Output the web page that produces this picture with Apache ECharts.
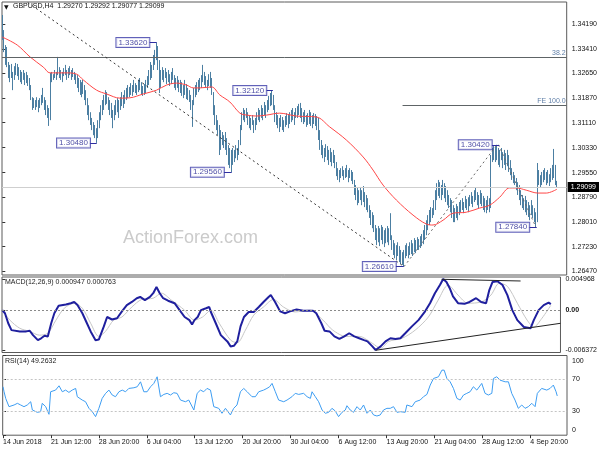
<!DOCTYPE html>
<html><head><meta charset="utf-8">
<script src="https://cdn.jsdelivr.net/npm/echarts@6/dist/echarts.min.js"></script>
<style>html,body{margin:0;padding:0;background:#fff}#c{width:600px;height:450px}</style>
</head><body><div id="c"></div><script>
// ---- tick labels ----
const xTickBars = [0,32,64,96,128,160,192,224,256,288,320,352];
const xTickLabels = ['14 Jun 2018','21 Jun 12:00','28 Jun 20:00','6 Jul 04:00','13 Jul 12:00','20 Jul 20:00','30 Jul 04:00','6 Aug 12:00','13 Aug 20:00','21 Aug 04:00','28 Aug 12:00','4 Sep 20:00'];
const priceTicks = [1.34190,1.33410,1.32650,1.31870,1.31110,1.30330,1.29550,1.28790,1.28010,1.27230,1.26470];
const macdTicks = [0.004968,0,-0.006372];
const rsiTicks = [100,70,30,0];

// ---- H4 candles ----
const opens = [1.3440,1.3375,1.3338,1.3310,1.3290,1.3268,1.3275,1.3255,1.3262,1.3278,
1.3274,1.3266,1.3255,1.3250,1.3258,1.3249,1.3254,1.3242,1.3230,1.3218,
1.3188,1.3170,1.3165,1.3176,1.3164,1.3170,1.3180,1.3192,1.3180,1.3160,
1.3145,1.3130,1.3150,1.3255,1.3252,1.3260,1.3258,1.3265,1.3270,1.3262,
1.3255,1.3266,1.3275,1.3265,1.3268,1.3272,1.3262,1.3266,1.3258,1.3248,
1.3240,1.3230,1.3222,1.3212,1.3220,1.3206,1.3190,1.3170,1.3142,1.3124,
1.3108,1.3092,1.3080,1.3070,1.3088,1.3112,1.3138,1.3156,1.3172,1.3188,
1.3190,1.3175,1.3160,1.3148,1.3130,1.3140,1.3155,1.3165,1.3155,1.3168,
1.3182,1.3178,1.3190,1.3200,1.3206,1.3208,1.3215,1.3212,1.3225,1.3220,
1.3214,1.3225,1.3232,1.3220,1.3210,1.3215,1.3225,1.3238,1.3252,1.3270,
1.3272,1.3288,1.3315,1.3335,1.3315,1.3282,1.3245,1.3262,1.3258,1.3266,
1.3255,1.3256,1.3245,1.3250,1.3262,1.3248,1.3232,1.3238,1.3226,1.3224,
1.3216,1.3208,1.3220,1.3208,1.3200,1.3194,1.3180,1.3155,1.3175,1.3208,
1.3218,1.3226,1.3232,1.3240,1.3255,1.3250,1.3240,1.3230,1.3242,1.3245,
1.3226,1.3205,1.3140,1.3110,1.3095,1.3078,1.3055,1.3060,1.3050,1.3055,
1.3035,1.3015,1.3000,1.2990,1.3004,1.3008,1.3020,1.3012,1.3028,1.3052,
1.3100,1.3138,1.3132,1.3142,1.3128,1.3115,1.3106,1.3118,1.3106,1.3105,
1.3122,1.3138,1.3132,1.3145,1.3138,1.3154,1.3146,1.3162,1.3172,1.3184,
1.3190,1.3176,1.3155,1.3122,1.3114,1.3104,1.3115,1.3108,1.3100,1.3114,
1.3122,1.3116,1.3124,1.3132,1.3138,1.3125,1.3140,1.3145,1.3152,1.3150,
1.3136,1.3126,1.3130,1.3118,1.3122,1.3128,1.3122,1.3115,1.3122,1.3118,
1.3108,1.3095,1.3062,1.3035,1.3020,1.3010,1.3022,1.3016,1.3004,1.3008,
1.2998,1.3005,1.2990,1.2975,1.2950,1.2945,1.2952,1.2958,1.2948,1.2954,
1.2960,1.2946,1.2952,1.2946,1.2938,1.2922,1.2892,1.2880,1.2878,1.2888,
1.2876,1.2886,1.2870,1.2860,1.2852,1.2836,1.2816,1.2804,1.2795,1.2772,
1.2755,1.2762,1.2752,1.2766,1.2758,1.2748,1.2756,1.2762,1.2756,1.2770,
1.2750,1.2722,1.2710,1.2704,1.2714,1.2700,1.2690,1.2685,1.2688,1.2705,
1.2712,1.2706,1.2716,1.2722,1.2715,1.2728,1.2724,1.2732,1.2730,1.2738,
1.2744,1.2752,1.2766,1.2782,1.2798,1.2814,1.2825,1.2830,1.2840,1.2862,
1.2892,1.2908,1.2902,1.2894,1.2906,1.2900,1.2888,1.2876,1.2865,1.2852,
1.2840,1.2826,1.2820,1.2832,1.2828,1.2840,1.2850,1.2856,1.2846,1.2860,
1.2856,1.2854,1.2866,1.2874,1.2866,1.2878,1.2888,1.2875,1.2864,1.2876,
1.2870,1.2860,1.2852,1.2848,1.2858,1.2854,1.2860,1.3000,1.3015,1.3014,
1.3020,1.3005,1.3000,1.3012,1.2998,1.3002,1.2990,1.3000,1.2984,1.2970,
1.2952,1.2940,1.2930,1.2920,1.2905,1.2892,1.2876,1.2864,1.2856,1.2856,
1.2845,1.2840,1.2830,1.2844,1.2834,1.2822,1.2808,1.2825,1.2945,1.2928,
1.2935,1.2944,1.2950,1.2938,1.2942,1.2932,1.2945,1.2955,1.2975,1.2950,
1.29270];
const highs = [1.3448,1.3401,1.3354,1.3348,1.3301,1.3292,1.3295,1.3270,1.3288,1.3298,
1.3295,1.3285,1.3276,1.3270,1.3276,1.3267,1.3270,1.3260,1.3251,1.3229,
1.3191,1.3188,1.3182,1.3191,1.3182,1.3188,1.3198,1.3220,1.3191,1.3182,
1.3166,1.3157,1.3267,1.3270,1.3263,1.3276,1.3270,1.3317,1.3285,1.3276,
1.3270,1.3282,1.3292,1.3276,1.3282,1.3288,1.3276,1.3282,1.3270,1.3263,
1.3260,1.3251,1.3245,1.3238,1.3245,1.3229,1.3213,1.3188,1.3166,1.3144,
1.3126,1.3113,1.3104,1.3094,1.3119,1.3144,1.3166,1.3182,1.3198,1.3213,
1.3207,1.3191,1.3182,1.3173,1.3151,1.3166,1.3182,1.3188,1.3182,1.3191,
1.3207,1.3198,1.3213,1.3220,1.3229,1.3223,1.3235,1.3229,1.3245,1.3235,
1.3229,1.3245,1.3251,1.3238,1.3226,1.3232,1.3245,1.3257,1.3276,1.3301,
1.3292,1.3323,1.3339,1.3362,1.3351,1.3307,1.3276,1.3285,1.3276,1.3282,
1.3270,1.3276,1.3263,1.3270,1.3282,1.3260,1.3251,1.3257,1.3245,1.3245,
1.3238,1.3229,1.3245,1.3232,1.3220,1.3213,1.3198,1.3182,1.3220,1.3229,
1.3238,1.3245,1.3251,1.3260,1.3292,1.3270,1.3257,1.3245,1.3263,1.3270,
1.3251,1.3207,1.3166,1.3135,1.3119,1.3104,1.3088,1.3082,1.3072,1.3082,
1.3063,1.3041,1.3032,1.3026,1.3032,1.3026,1.3041,1.3032,1.3057,1.3104,
1.3144,1.3157,1.3151,1.3157,1.3144,1.3135,1.3126,1.3135,1.3119,1.3126,
1.3144,1.3157,1.3151,1.3166,1.3157,1.3176,1.3166,1.3182,1.3195,1.3204,
1.3212,1.3198,1.3166,1.3144,1.3135,1.3126,1.3135,1.3129,1.3119,1.3132,
1.3141,1.3135,1.3144,1.3151,1.3157,1.3144,1.3157,1.3163,1.3170,1.3173,
1.3157,1.3144,1.3151,1.3135,1.3141,1.3151,1.3144,1.3135,1.3141,1.3138,
1.3132,1.3126,1.3088,1.3057,1.3041,1.3032,1.3044,1.3038,1.3026,1.3032,
1.3019,1.3026,1.3010,1.2988,1.2969,1.2963,1.2969,1.2975,1.2963,1.2969,
1.2979,1.2963,1.2969,1.2963,1.2957,1.2932,1.2916,1.2907,1.2900,1.2910,
1.2900,1.2913,1.2894,1.2885,1.2875,1.2853,1.2838,1.2831,1.2822,1.2791,
1.2781,1.2788,1.2781,1.2791,1.2785,1.2775,1.2781,1.2788,1.2781,1.2828,
1.2759,1.2744,1.2734,1.2728,1.2737,1.2725,1.2713,1.2706,1.2713,1.2728,
1.2734,1.2725,1.2737,1.2744,1.2734,1.2750,1.2744,1.2753,1.2747,1.2756,
1.2763,1.2775,1.2791,1.2806,1.2822,1.2838,1.2847,1.2844,1.2869,1.2900,
1.2922,1.2932,1.2925,1.2916,1.2932,1.2922,1.2913,1.2900,1.2885,1.2875,
1.2869,1.2853,1.2844,1.2857,1.2850,1.2863,1.2869,1.2875,1.2863,1.2882,
1.2872,1.2878,1.2885,1.2894,1.2882,1.2900,1.2907,1.2894,1.2885,1.2900,
1.2891,1.2882,1.2875,1.2869,1.2882,1.2875,1.3010,1.3032,1.3038,1.3035,
1.3042,1.3032,1.3026,1.3032,1.3019,1.3026,1.3016,1.3026,1.3010,1.2994,
1.2969,1.2957,1.2947,1.2938,1.2925,1.2916,1.2900,1.2885,1.2875,1.2882,
1.2869,1.2863,1.2853,1.2869,1.2853,1.2844,1.2831,1.2985,1.2963,1.2947,
1.2957,1.2963,1.2969,1.2957,1.2963,1.2950,1.2969,1.2979,1.3029,1.2979,
1.29292];
const lows = [1.3370,1.3332,1.3292,1.3285,1.3251,1.3238,1.3251,1.3213,1.3245,1.3260,
1.3257,1.3245,1.3238,1.3232,1.3245,1.3229,1.3235,1.3226,1.3213,1.3182,
1.3151,1.3157,1.3151,1.3160,1.3144,1.3157,1.3166,1.3173,1.3151,1.3135,
1.3126,1.3101,1.3119,1.3238,1.3245,1.3251,1.3245,1.3260,1.3251,1.3245,
1.3238,1.3257,1.3260,1.3245,1.3251,1.3260,1.3245,1.3254,1.3245,1.3232,
1.3220,1.3207,1.3198,1.3191,1.3201,1.3182,1.3166,1.3135,1.3119,1.3104,
1.3088,1.3072,1.3063,1.3048,1.3063,1.3094,1.3119,1.3135,1.3151,1.3166,
1.3170,1.3151,1.3135,1.3126,1.3094,1.3119,1.3135,1.3144,1.3126,1.3151,
1.3163,1.3157,1.3170,1.3182,1.3188,1.3191,1.3198,1.3195,1.3207,1.3204,
1.3198,1.3207,1.3213,1.3201,1.3195,1.3198,1.3204,1.3220,1.3229,1.3245,
1.3251,1.3276,1.3292,1.3307,1.3276,1.3204,1.3220,1.3245,1.3238,1.3251,
1.3232,1.3238,1.3226,1.3232,1.3245,1.3220,1.3213,1.3220,1.3207,1.3204,
1.3195,1.3188,1.3198,1.3185,1.3182,1.3176,1.3151,1.3098,1.3166,1.3191,
1.3198,1.3207,1.3213,1.3220,1.3238,1.3229,1.3220,1.3213,1.3226,1.3220,
1.3198,1.3135,1.3104,1.3088,1.3072,1.3010,1.3026,1.3041,1.3032,1.3026,
1.3010,1.2979,1.2969,1.2956,1.2979,1.2988,1.3000,1.2994,1.3010,1.3041,
1.3088,1.3119,1.3113,1.3126,1.3104,1.3094,1.3088,1.3104,1.3079,1.3088,
1.3104,1.3119,1.3113,1.3126,1.3119,1.3135,1.3126,1.3144,1.3151,1.3163,
1.3166,1.3151,1.3113,1.3104,1.3094,1.3082,1.3098,1.3088,1.3082,1.3098,
1.3104,1.3094,1.3107,1.3113,1.3119,1.3104,1.3126,1.3126,1.3135,1.3126,
1.3113,1.3107,1.3113,1.3098,1.3104,1.3107,1.3101,1.3094,1.3107,1.3101,
1.3088,1.3057,1.3026,1.3010,1.3000,1.2988,1.3004,1.2994,1.2979,1.2988,
1.2975,1.2985,1.2969,1.2944,1.2932,1.2925,1.2938,1.2944,1.2932,1.2938,
1.2941,1.2925,1.2938,1.2929,1.2919,1.2885,1.2869,1.2853,1.2860,1.2869,
1.2853,1.2863,1.2847,1.2838,1.2831,1.2813,1.2791,1.2781,1.2769,1.2744,
1.2728,1.2737,1.2725,1.2744,1.2731,1.2722,1.2734,1.2737,1.2728,1.2744,
1.2713,1.2697,1.2687,1.2681,1.2694,1.2675,1.2669,1.2666,1.2661,1.2687,
1.2694,1.2687,1.2697,1.2700,1.2694,1.2706,1.2703,1.2713,1.2713,1.2719,
1.2725,1.2731,1.2744,1.2759,1.2775,1.2791,1.2800,1.2813,1.2822,1.2838,
1.2869,1.2882,1.2875,1.2869,1.2885,1.2875,1.2863,1.2853,1.2844,1.2831,
1.2813,1.2800,1.2800,1.2813,1.2806,1.2822,1.2831,1.2838,1.2828,1.2844,
1.2838,1.2831,1.2850,1.2857,1.2847,1.2863,1.2869,1.2853,1.2844,1.2857,
1.2850,1.2838,1.2831,1.2828,1.2838,1.2831,1.2844,1.2988,1.2994,1.2988,
1.2994,1.2979,1.2972,1.2994,1.2969,1.2979,1.2963,1.2975,1.2957,1.2947,
1.2932,1.2922,1.2916,1.2900,1.2885,1.2869,1.2853,1.2844,1.2838,1.2831,
1.2822,1.2816,1.2806,1.2822,1.2813,1.2800,1.2784,1.2800,1.2916,1.2907,
1.2916,1.2925,1.2932,1.2916,1.2922,1.2913,1.2925,1.2932,1.2938,1.2916,
1.29077];
const closes = [1.3375,1.3338,1.3310,1.3290,1.3268,1.3275,1.3255,1.3262,1.3278,1.3274,
1.3266,1.3255,1.3250,1.3258,1.3249,1.3254,1.3242,1.3230,1.3218,1.3188,
1.3170,1.3165,1.3176,1.3164,1.3170,1.3180,1.3192,1.3180,1.3160,1.3145,
1.3130,1.3150,1.3255,1.3252,1.3260,1.3258,1.3265,1.3270,1.3262,1.3255,
1.3266,1.3275,1.3265,1.3268,1.3272,1.3262,1.3266,1.3258,1.3248,1.3240,
1.3230,1.3222,1.3212,1.3220,1.3206,1.3190,1.3170,1.3142,1.3124,1.3108,
1.3092,1.3080,1.3070,1.3088,1.3112,1.3138,1.3156,1.3172,1.3188,1.3190,
1.3175,1.3160,1.3148,1.3130,1.3140,1.3155,1.3165,1.3155,1.3168,1.3182,
1.3178,1.3190,1.3200,1.3206,1.3208,1.3215,1.3212,1.3225,1.3220,1.3214,
1.3225,1.3232,1.3220,1.3210,1.3215,1.3225,1.3238,1.3252,1.3270,1.3272,
1.3288,1.3315,1.3335,1.3315,1.3282,1.3245,1.3262,1.3258,1.3266,1.3255,
1.3256,1.3245,1.3250,1.3262,1.3248,1.3232,1.3238,1.3226,1.3224,1.3216,
1.3208,1.3220,1.3208,1.3200,1.3194,1.3180,1.3155,1.3175,1.3208,1.3218,
1.3226,1.3232,1.3240,1.3255,1.3250,1.3240,1.3230,1.3242,1.3245,1.3226,
1.3205,1.3140,1.3110,1.3095,1.3078,1.3055,1.3060,1.3050,1.3055,1.3035,
1.3015,1.3000,1.2990,1.3004,1.3008,1.3020,1.3012,1.3028,1.3052,1.3100,
1.3138,1.3132,1.3142,1.3128,1.3115,1.3106,1.3118,1.3106,1.3105,1.3122,
1.3138,1.3132,1.3145,1.3138,1.3154,1.3146,1.3162,1.3172,1.3184,1.3190,
1.3176,1.3155,1.3122,1.3114,1.3104,1.3115,1.3108,1.3100,1.3114,1.3122,
1.3116,1.3124,1.3132,1.3138,1.3125,1.3140,1.3145,1.3152,1.3150,1.3136,
1.3126,1.3130,1.3118,1.3122,1.3128,1.3122,1.3115,1.3122,1.3118,1.3108,
1.3095,1.3062,1.3035,1.3020,1.3010,1.3022,1.3016,1.3004,1.3008,1.2998,
1.3005,1.2990,1.2975,1.2950,1.2945,1.2952,1.2958,1.2948,1.2954,1.2960,
1.2946,1.2952,1.2946,1.2938,1.2922,1.2892,1.2880,1.2878,1.2888,1.2876,
1.2886,1.2870,1.2860,1.2852,1.2836,1.2816,1.2804,1.2795,1.2772,1.2755,
1.2762,1.2752,1.2766,1.2758,1.2748,1.2756,1.2762,1.2756,1.2770,1.2750,
1.2722,1.2710,1.2704,1.2714,1.2700,1.2690,1.2685,1.2688,1.2705,1.2712,
1.2706,1.2716,1.2722,1.2715,1.2728,1.2724,1.2732,1.2730,1.2738,1.2744,
1.2752,1.2766,1.2782,1.2798,1.2814,1.2825,1.2830,1.2840,1.2862,1.2892,
1.2908,1.2902,1.2894,1.2906,1.2900,1.2888,1.2876,1.2865,1.2852,1.2840,
1.2826,1.2820,1.2832,1.2828,1.2840,1.2850,1.2856,1.2846,1.2860,1.2856,
1.2854,1.2866,1.2874,1.2866,1.2878,1.2888,1.2875,1.2864,1.2876,1.2870,
1.2860,1.2852,1.2848,1.2858,1.2854,1.2860,1.3000,1.3015,1.3014,1.3020,
1.3005,1.3000,1.3012,1.2998,1.3002,1.2990,1.3000,1.2984,1.2970,1.2952,
1.2940,1.2930,1.2920,1.2905,1.2892,1.2876,1.2864,1.2856,1.2856,1.2845,
1.2840,1.2830,1.2844,1.2834,1.2822,1.2808,1.2825,1.2945,1.2928,1.2935,
1.2944,1.2950,1.2938,1.2942,1.2932,1.2945,1.2955,1.2975,1.2950,1.2927,
1.29099];

// ---- moving average [bar, price] ----
const maLine = [[0,1.3379],[10,1.3354],[18.5,1.3317],[27.4,1.3285],[31.8,1.3267],[42.9,1.3267],[49.6,1.3263],[54,1.3245],[62.9,1.3213],[69.6,1.3201],[78.5,1.3188],[85.1,1.3189],[94,1.3201],[102.9,1.3213],[109.6,1.3229],[116.2,1.3235],[122.9,1.3229],[127.4,1.3220],[131.8,1.3220],[139.6,1.3223],[145.1,1.3198],[151.8,1.3176],[158.5,1.3141],[163,1.3135],[169.6,1.3132],[176.3,1.3135],[185,1.3141],[196,1.3132],[209.5,1.3129],[218.4,1.3098],[229.5,1.3057],[240.7,1.3004],[247.3,1.2963],[254,1.2916],[262.9,1.2869],[274,1.2822],[282.9,1.2794],[287.3,1.2791],[294,1.2806],[300.7,1.2828],[309.5,1.2831],[318.4,1.2844],[325.1,1.2853],[331.8,1.2878],[338.4,1.2907],[342.9,1.2907],[349.5,1.2900],[357.3,1.2891],[362.9,1.2891],[370,1.2903]];

// ---- MACD(12,26,9) [bar, value] ----
const macdMain = [[0,0.0000],[1.8,-0.0005],[4,-0.0021],[6.2,-0.0032],[11.8,-0.0034],[16.2,-0.0034],[18.5,-0.0033],[20.7,-0.0040],[24,-0.0048],[26.2,-0.0045],[28.5,-0.0041],[30.7,-0.0042],[33,-0.0021],[35.1,-0.0005],[38,0.0007],[42.9,0.0009],[46.2,0.0011],[48.5,0.0013],[50.7,0.0008],[54,-0.0005],[56.7,-0.0019],[59.6,-0.0034],[62.9,-0.0048],[65.1,-0.0047],[68.5,-0.0026],[70.7,-0.0011],[74,-0.0015],[77.4,-0.0013],[80.7,-0.0002],[84,0.0008],[87.4,0.0013],[90.7,0.0019],[93,0.0021],[96.2,0.0016],[99.6,0.0021],[101.8,0.0027],[104,0.0037],[106.2,0.0027],[108.5,0.0019],[111.8,0.0015],[116.2,0.0011],[119.6,0.0000],[123,-0.0011],[126.2,-0.0016],[128,-0.0023],[129.6,-0.0016],[131.8,-0.0011],[134,0.0000],[137.4,0.0003],[139.6,0.0005],[140.7,-0.0003],[144,-0.0021],[147.4,-0.0040],[151.8,-0.0050],[154,-0.0058],[156.2,-0.0057],[158.5,-0.0050],[160.7,-0.0026],[163,-0.0011],[166.2,-0.0003],[169.6,-0.0003],[173,0.0005],[176.2,0.0013],[179.6,0.0021],[181.1,0.0024],[184,0.0013],[187.4,-0.0002],[190.7,-0.0005],[194,-0.0002],[198.5,0.0001],[203,-0.0001],[209.6,-0.0001],[211.8,-0.0005],[215.2,-0.0021],[217.4,-0.0033],[220.7,-0.0034],[224,-0.0042],[227.4,-0.0046],[230.7,-0.0042],[234,-0.0037],[237.4,-0.0042],[240.7,-0.0045],[244,-0.0048],[246.3,-0.0050],[249.6,-0.0058],[251.8,-0.006372],[255.2,-0.0058],[258.5,-0.0050],[261.8,-0.0045],[265.2,-0.0046],[268.5,-0.0045],[271.8,-0.0037],[276.3,-0.0026],[280.7,-0.0016],[285.2,-0.0002],[288.5,0.0011],[291.8,0.0027],[295.2,0.0040],[297.4,0.004968],[299.6,0.0045],[301.8,0.0035],[304,0.0022],[307.4,0.0011],[311.8,0.0010],[315.2,0.0013],[319.6,0.0019],[323,0.0013],[326.3,0.0011],[328.5,0.0032],[330.7,0.0045],[334,0.0046],[337.4,0.0040],[340.7,0.0024],[344,0.0000],[347.4,-0.0016],[351.8,-0.0027],[356.3,-0.0029],[358.5,-0.0016],[361.8,0.0000],[365.2,0.0008],[368.5,0.0012],[370,0.000947]];
const macdSignal = [[0,0.0000],[5.1,-0.0016],[11.8,-0.0029],[18.5,-0.0034],[25.1,-0.0040],[30.7,-0.0037],[36.2,-0.0016],[41.8,0.0003],[48.5,0.0011],[54,0.0003],[59.6,-0.0021],[65.1,-0.0042],[69.6,-0.0034],[75.1,-0.0016],[80.7,-0.0011],[87.4,0.0005],[94,0.0017],[101.8,0.0019],[107.4,0.0027],[114,0.0016],[122.9,0.0000],[129.6,-0.0016],[135.1,-0.0011],[140.7,0.0000],[146.3,-0.0021],[154,-0.0048],[158.5,-0.0052],[164,-0.0032],[169.6,-0.0008],[176.2,0.0005],[182.9,0.0017],[189.6,0.0005],[197.4,-0.0003],[207.4,0.0000],[216.3,-0.0016],[222.9,-0.0032],[231.8,-0.0042],[240.7,-0.0042],[249.6,-0.0053],[255.2,-0.0061],[260.7,-0.0050],[269.6,-0.0045],[278.5,-0.0032],[287.4,-0.0011],[294,0.0016],[300.7,0.0040],[307.4,0.0024],[314,0.0011],[323,0.0013],[329.6,0.0024],[335.2,0.0043],[340.7,0.0038],[347.4,0.0011],[354,-0.0016],[358.5,-0.0027],[364,-0.0013],[370,0.000763]];

// ---- RSI(14) [bar, value] ----
const rsiLine = [[0,60.8],[0.7,54.5],[1.8,46.2],[4,35.8],[7.4,37.9],[9.6,40.0],[11.8,37.9],[14,35.8],[16.2,37.9],[18.5,42.0],[19.6,31.6],[22.9,28.7],[25.1,29.5],[26.2,40.0],[28.5,35.8],[30.7,26.2],[31.8,54.5],[35.1,56.6],[37.4,62.0],[39.6,54.5],[41.8,56.6],[44,53.7],[46.2,56.6],[48.5,58.7],[49.6,48.3],[52.9,44.1],[55.1,42.0],[57.4,33.7],[59.6,29.5],[61.8,23.3],[64,33.7],[66.2,46.2],[68.5,52.5],[70.7,56.6],[72.9,50.4],[75.1,48.3],[77.4,54.5],[79.6,56.6],[81.8,54.5],[84,58.7],[87.4,59.5],[89.6,60.8],[91.8,67.0],[94,54.5],[96.2,54.5],[98.5,60.8],[100.7,65.0],[102.9,73.3],[104,75.4],[105.1,48.3],[107.4,51.2],[109.6,52.5],[111.8,50.4],[114,53.3],[116.2,52.5],[118.5,44.1],[121.8,42.0],[124,44.1],[127.4,31.6],[129.6,52.5],[131.8,56.6],[134,54.5],[136.2,58.7],[138.5,56.6],[140.7,35.8],[144,33.7],[146.2,27.5],[148.5,33.7],[151.8,25.4],[154,33.7],[156.2,37.9],[158.5,54.5],[160.7,58.7],[163,54.5],[166.2,48.3],[168.5,48.3],[170.7,54.5],[174,56.6],[176.2,58.7],[178,60.8],[179.6,65.0],[181.8,54.5],[184,44.1],[187.4,42.0],[189.6,44.1],[192.9,48.3],[195.1,52.5],[197.4,51.2],[200.7,52.5],[203,48.3],[205.2,46.2],[206.3,54.5],[208.5,48.3],[210.7,42.0],[213,31.6],[215.2,27.5],[217.4,28.7],[219.6,33.7],[221.8,30.4],[224,23.3],[226.3,28.7],[228.5,31.6],[229.6,37.0],[231.8,31.6],[234,28.7],[236.3,35.8],[238.5,31.6],[240.7,37.9],[243,27.5],[245.2,31.6],[247.4,25.4],[249.6,24.1],[251.8,25.4],[254,31.6],[256.3,33.7],[258.5,33.7],[260.7,35.8],[263,28.7],[265.2,29.5],[268.5,28.7],[269.6,37.9],[273,35.8],[275.2,42.0],[278.5,44.1],[280.7,48.3],[283,51.2],[285.2,62.9],[287.4,71.2],[290.7,73.3],[293,81.6],[294.5,81.6],[296.3,71.2],[298.5,67.0],[300.7,58.7],[303,46.2],[305.2,44.1],[307.4,50.4],[309.6,52.5],[311.8,54.5],[314,60.8],[316.3,56.6],[319.6,65.0],[321.8,52.5],[324,50.4],[326.3,52.5],[327.4,71.2],[329.6,73.3],[331.8,69.1],[335.2,67.0],[337.4,67.0],[339.6,52.5],[341.8,44.1],[344,33.7],[346.3,37.9],[348.5,33.7],[350.7,35.8],[353,40.0],[355.2,35.8],[356.7,52.5],[359.6,58.7],[363,56.6],[365.2,58.7],[367.4,62.9],[369.2,54.5],[370,49.2632]];

// ---- swing labels ----
const swingPrices = [1.3362,1.3048,1.2956,1.3212,1.2661,1.3042,1.2784];
const swingBoxBars = [87.1,47.5,136.8,165.1,251.5,315.5,340.5];
const swingBoxEdge = [97.8,57.8,147.1,175.8,261.8,325.8,351.1];
const swingBars = [103,63,153,180.5,267.8,331.5,356.5];

const fib382 = 1.3316, fe100 = 1.3165, lastPrice = 1.29099;

const FONT = 'Liberation Sans';
const XMIN = -0.2, XMAX = 376.5;
const candleData = closes.map((c, i) => [i, opens[i], c, lows[i], highs[i]]);

const chart = echarts.init(document.getElementById('c'), null, {renderer: 'canvas'});
const gridCommon = {left: 2, width: 565, show: true, borderColor: '#5a5a5a', borderWidth: 1, backgroundColor: 'transparent'};
const xBase = (gi) => ({type: 'value', gridIndex: gi, min: XMIN, max: XMAX, show: false, splitLine: {show: false}});
const lblStyle = {fontSize: 7, color: '#111', fontFamily: FONT};

const connLines = swingPrices.map((p, k) => [{coord: [swingBoxEdge[k], p]}, {coord: [swingBars[k], p]}]);

chart.setOption({
  animation: false,
  textStyle: {fontFamily: FONT},
  grid: [
    Object.assign({}, gridCommon, {top: 2, height: 273}),
    Object.assign({}, gridCommon, {top: 277, height: 75.5}),
    Object.assign({}, gridCommon, {top: 355.5, height: 79.7})
  ],
  xAxis: [
    xBase(0), xBase(1),
    {type: 'value', gridIndex: 2, min: XMIN, max: XMAX, splitLine: {show: false},
     axisLine: {show: false},
     axisTick: {show: true, length: 3, customValues: xTickBars, lineStyle: {color: '#333'}},
     axisLabel: {show: true, customValues: xTickBars, align: 'left', margin: 3, fontSize: 7, color: '#111', fontFamily: FONT,
       formatter: v => xTickLabels[xTickBars.indexOf(v)] || ''}}
  ],
  yAxis: [
    {type: 'value', gridIndex: 0, position: 'right', min: 1.26346, max: 1.34888, splitLine: {show: false},
     axisLine: {show: false},
     axisTick: {show: true, length: 3, customValues: priceTicks, lineStyle: {color: '#333'}},
     axisLabel: Object.assign({show: true, customValues: priceTicks, margin: 5, formatter: v => v.toFixed(5)}, lblStyle)},
    {type: 'value', gridIndex: 1, position: 'right', min: -0.006772, max: 0.005287, splitLine: {show: false},
     axisLine: {show: false},
     axisTick: {show: true, length: 3, customValues: macdTicks, lineStyle: {color: '#333'}},
     axisLabel: Object.assign({show: true, customValues: macdTicks, margin: 5,
       formatter: v => v === 0 ? '{z|0.00}' : v.toFixed(6),
       rich: {z: {fontSize: 7, fontWeight: 'bold', color: '#111', fontFamily: FONT}}}, lblStyle)},
    {type: 'value', gridIndex: 2, position: 'right', min: 0, max: 100, splitLine: {show: false},
     axisLine: {show: false},
     axisTick: {show: true, length: 3, customValues: rsiTicks, lineStyle: {color: '#333'}},
     axisLabel: Object.assign({show: true, customValues: rsiTicks, margin: 5,
       formatter: v => v === 100 ? '{t|100}' : (v === 0 ? '{b|0}' : String(v)),
       rich: {t: {fontSize: 7, color: '#111', padding: [11, 0, 0, 0], fontFamily: FONT},
              b: {fontSize: 7, color: '#111', padding: [0, 0, 11, 0], fontFamily: FONT}}}, lblStyle)}
  ],
  series: [
    {type: 'candlestick', name: 'GBPUSD,H4', xAxisIndex: 0, yAxisIndex: 0, data: candleData,
     barWidth: 0.05, silent: true,
     itemStyle: {color: '#5588ab', color0: '#5588ab', borderColor: '#4c7fa2', borderColor0: '#4c7fa2', borderWidth: 1}},
    {type: 'line', name: 'MA', xAxisIndex: 0, yAxisIndex: 0, data: maLine, showSymbol: false, smooth: 0.35,
     lineStyle: {color: '#ff4646', width: 1}, silent: true, z: 3,
     markLine: {silent: true, symbol: ['none', 'none'], animation: false,
       data: [
         [{coord: [XMIN, fib382], lineStyle: {color: '#5e6466', width: 1, type: 'solid'},
           label: {show: true, formatter: '38.2', position: 'insideEndTop', distance: [1, 1], color: '#5f7fa8', fontSize: 7, fontFamily: FONT}},
          {coord: [XMAX, fib382]}],
         [{coord: [267, fe100], lineStyle: {color: '#5e6466', width: 1, type: 'solid'},
           label: {show: true, formatter: 'FE 100.0', position: 'insideEndTop', distance: [1, 1], color: '#5f7fa8', fontSize: 7, fontFamily: FONT}},
          {coord: [XMAX, fe100]}],
         [{coord: [XMIN, lastPrice], lineStyle: {color: '#cfcfcf', width: 1, type: 'solid'},
           label: {show: true, formatter: lastPrice.toFixed(5), position: 'end', distance: 1, color: '#fff', backgroundColor: '#000',
                   padding: [2, 3, 1, 3], fontSize: 7, fontFamily: FONT}},
          {coord: [XMAX, lastPrice]}],
         [{coord: [17, 1.3487], lineStyle: {color: '#333', width: 1, type: [2, 3]}, label: {show: false}}, {coord: [268, 1.2661]}],
         [{coord: [268, 1.2661], lineStyle: {color: '#666', width: 1, type: [2, 3]}, label: {show: false}}, {coord: [330, 1.3042]}],
         [{coord: [331, 1.3042], lineStyle: {color: '#666', width: 1, type: [2, 3]}, label: {show: false}}, {coord: [356, 1.2784]}]
       ].concat(connLines.map(l => [Object.assign({}, l[0], {lineStyle: {color: '#2e2ea0', width: 1, type: 'solid'}, label: {show: false}}), l[1]]))
     }},
    {type: 'scatter', name: 'swings', xAxisIndex: 0, yAxisIndex: 0, symbolSize: 0, silent: true, z: 5,
     data: swingPrices.map((p, k) => [swingBoxBars[k], p]),
     label: {show: true, position: 'inside', formatter: pr => pr.value[1].toFixed(5), fontSize: 8, fontFamily: FONT,
             color: '#1c1c8c', backgroundColor: '#ffffff', borderColor: '#3a3aa8', borderWidth: 1, padding: [1, 2, 0, 2], lineHeight: 8}},
    {type: 'line', name: 'Signal', xAxisIndex: 1, yAxisIndex: 1, data: macdSignal, showSymbol: false, smooth: 0.3,
     lineStyle: {color: '#c6c6c6', width: 1}, silent: true},
    {type: 'line', name: 'MACD', xAxisIndex: 1, yAxisIndex: 1, data: macdMain, showSymbol: false,
     lineStyle: {color: '#1f1f9e', width: 2}, silent: true,
     markLine: {silent: true, symbol: ['none', 'none'], label: {show: false}, animation: false,
       data: [
         [{coord: [XMIN, 0], lineStyle: {color: '#8a8a8a', width: 1, type: [2, 2]}}, {coord: [XMAX, 0]}],
         [{coord: [296.3, 0.00492], lineStyle: {color: '#222', width: 1, type: 'solid'}}, {coord: [349.6, 0.00465]}],
         [{coord: [251.8, -0.00642], lineStyle: {color: '#222', width: 1, type: 'solid'}}, {coord: [XMAX, -0.00211]}]
       ]}},
    {type: 'line', name: 'RSI', xAxisIndex: 2, yAxisIndex: 2, data: rsiLine, showSymbol: false,
     lineStyle: {color: '#3d9df2', width: 1}, silent: true,
     markLine: {silent: true, symbol: ['none', 'none'], label: {show: false}, animation: false,
       data: [
         [{coord: [XMIN, 70], lineStyle: {color: '#c4c4c4', width: 1, type: [2, 2]}}, {coord: [XMAX, 70]}],
         [{coord: [XMIN, 30], lineStyle: {color: '#c4c4c4', width: 1, type: [2, 2]}}, {coord: [XMAX, 30]}]
       ]}}
  ],
  graphic: [
    {type: 'text', left: 4, top: 4, style: {text: '\u25BC', font: '6px "DejaVu Sans"', fill: '#111'}},
    {type: 'text', left: 13, top: 3, style: {text: 'GBPUSD,H4  1.29270 1.29292 1.29077 1.29099', font: '7px "Liberation Sans"', fill: '#111'}},
    {type: 'text', left: 5, top: 279, style: {text: 'MACD(12,26,9) 0.000947 0.000763', font: '7px "Liberation Sans"', fill: '#222'}},
    {type: 'text', left: 5, top: 358, style: {text: 'RSI(14) 49.2632', font: '7px "Liberation Sans"', fill: '#222'}},
    {type: 'text', left: 123, top: 229, z: -1, style: {text: 'ActionForex.com', font: '18px "Liberation Sans"', fill: '#cbcbcb'}}
  ]
});
</script></body></html>
